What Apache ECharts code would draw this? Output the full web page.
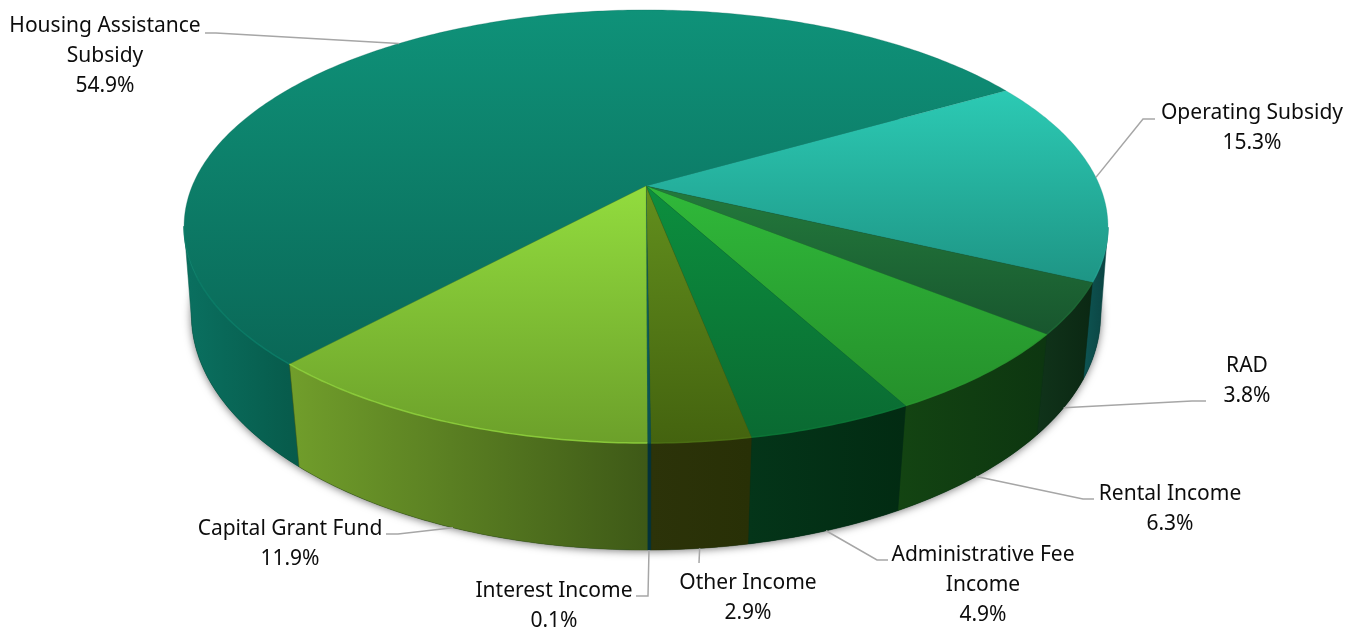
<!DOCTYPE html>
<html>
<head>
<meta charset="utf-8">
<style>html,body{margin:0;padding:0;background:#fff}#chart{width:1358px;height:628px}</style>
<script src="https://cdn.jsdelivr.net/npm/echarts@6/dist/echarts.min.js"></script>
</head>
<body>
<div id="chart"></div>
<script>
// Revenue shares, clockwise from the start of the largest slice
const categories = ['Housing Assistance\nSubsidy', 'Operating Subsidy', 'RAD', 'Rental Income',
  'Administrative Fee\nIncome', 'Other Income', 'Interest Income', 'Capital Grant Fund'];
const shares = [54.9, 15.3, 3.8, 6.3, 4.9, 2.9, 0.1, 11.9];

// Face colours: top face [far, near], wall [left, right], rim highlight
const topColors = [['#0f9279', '#0a6857'], ['#2ccab4', '#1e9585'], ['#237a3c', '#18562e'], ['#30b93a', '#25902b'],
  ['#0c8f3e', '#0a6a32'], ['#628f1d', '#44630f'], ['#0a6a66', '#0a4f50'], ['#92dc3e', '#6ca02a']];
const wallColors = [['#0a7060', '#075a4a'], ['#0e5553', '#0b4341'], ['#10331a', '#0b2813'], ['#134412', '#0d3610'],
  ['#043519', '#022b12'], ['#2c3309', '#283006'], ['#03323a', '#03323a'], ['#719e2b', '#3e5917']];
const rimColors = ['#0c7f6a', '#22a392', '#1e6b36', '#2a9a30', '#0c7a38', '#4f7415', '#0a4f50', '#95d840'];

// Perspective model of the disc: a unit circle projected onto each rim
const center = { x: 646 };
const topRim = { a: 453.8, b: 174.2, c: -0.187, d: 186 };
const baseRim = { a: 448, b: 181.5, c: -0.17, d: 275 };
const startDeg = 42.66;
// Cosine of the angle, measured from the nearest point, where the wall turns out of view
const silhouetteCos = 0.18;

function project(rim, deg) {
  const t = deg * Math.PI / 180;
  const u = -Math.sin(t), v = Math.cos(t);
  const w = 1 + rim.c * v;
  return [center.x + rim.a * u / w, (rim.b * v + rim.d) / w];
}
function isFront(deg) { return Math.cos(deg * Math.PI / 180) > silhouetteCos; }
function sliceRange(i) {
  const total = shares.reduce((s, x) => s + x, 0);
  const before = shares.slice(0, i).reduce((s, x) => s + x, 0);
  return [startDeg + before / total * 360, startDeg + (before + shares[i]) / total * 360];
}
function arcDegrees(from, to) {
  const out = [];
  const steps = Math.max(2, Math.ceil((to - from) / 0.75));
  for (let k = 0; k <= steps; k++) out.push(from + (to - from) * k / steps);
  return out;
}
function gradient(x, y, x2, y2, stops) {
  return { type: 'linear', x, y, x2, y2, global: true,
    colorStops: [{ offset: 0, color: stops[0] }, { offset: 1, color: stops[1] }] };
}

function renderWall(params, api) {
  const i = params.dataIndex;
  const [from, to] = sliceRange(i);
  const degs = arcDegrees(from, to).filter(isFront);
  const upper = degs.map(d => project(topRim, d));
  const lower = degs.map(d => project(baseRim, d));
  const pts = upper.concat(lower.slice().reverse());
  const xs = pts.map(p => p[0]);
  return { type: 'polygon', shape: { points: pts },
    style: { fill: gradient(Math.min(...xs), 0, Math.max(...xs), 0, wallColors[i]),
      stroke: wallColors[i][1], lineWidth: 0.5 } };
}

function renderTop(params, api) {
  const i = params.dataIndex;
  const [from, to] = sliceRange(i);
  const arc = arcDegrees(from, to).map(d => project(topRim, d));
  const pts = [[center.x, topRim.d]].concat(arc);
  const ys = pts.map(p => p[1]);
  const front = arcDegrees(from, to).filter(isFront).map(d => project(topRim, d));
  const children = [{ type: 'polygon', shape: { points: pts },
    style: { fill: gradient(0, Math.min(...ys), 0, Math.max(...ys), topColors[i]),
      stroke: topColors[i][1], lineWidth: 0.3 } }];
  if (front.length > 1) {
    children.push({ type: 'polyline', shape: { points: front },
      style: { fill: null, stroke: rimColors[i], lineWidth: 1.5, opacity: 0.8 } });
  }
  return { type: 'group', children };
}

// Soft shadow around the foot of the disc
function renderBaseShadow() {
  const pts = arcDegrees(0, 360).map(d => project(baseRim, d));
  return { type: 'polygon', shape: { points: pts },
    style: { fill: '#0a3a2a', shadowBlur: 9, shadowColor: 'rgba(0,0,0,0.55)', shadowOffsetY: 1 } };
}

// Callout layout: rim the leader starts from, its bends, and the label centre
const callouts = [
  { rim: topRim, bends: [[216, 33], [205, 33]], label: [105, 56] },
  { rim: topRim, bends: [[1143, 119], [1155, 119]], label: [1252, 128] },
  { rim: baseRim, bends: [[1192, 401], [1206, 401]], label: [1247, 381] },
  { rim: baseRim, bends: [[1083, 499], [1094, 499]], label: [1170, 509] },
  { rim: baseRim, bends: [[877, 560], [888, 560]], label: [983, 585] },
  { rim: baseRim, bends: [[699, 563]], label: [748, 598] },
  { rim: baseRim, bends: [[648, 596], [636, 596]], label: [554, 606] },
  { rim: baseRim, bends: [[398, 534], [386, 534]], label: [290, 544] }
];

function renderCallout(params, api) {
  const i = params.dataIndex;
  const c = callouts[i];
  const [from, to] = sliceRange(i);
  const anchor = project(c.rim, (from + to) / 2);
  return { type: 'group', children: [
    { type: 'polyline', shape: { points: [anchor].concat(c.bends) },
      style: { fill: null, stroke: '#a6a6a6', lineWidth: 1.5 } },
    { type: 'text', style: { x: c.label[0], y: c.label[1],
      text: categories[i] + '\n' + api.value(1).toFixed(1) + '%',
      fill: '#0d0d0d', font: '21px "Noto Sans"', lineHeight: 30, align: 'center', verticalAlign: 'middle' } }
  ] };
}

const rows = shares.map((v, i) => [i, v]);
const layer = (renderItem, z, data) => ({ type: 'custom', coordinateSystem: 'none', data: data || rows,
  renderItem, z, silent: true, animation: false });

const chart = echarts.init(document.getElementById('chart'));
chart.setOption({
  animation: false,
  backgroundColor: '#ffffff',
  series: [
    layer(renderBaseShadow, 1, [[0, 100]]),
    layer(renderWall, 2),
    layer(renderTop, 3),
    layer(renderCallout, 4)
  ]
});
</script>
</body>
</html>
